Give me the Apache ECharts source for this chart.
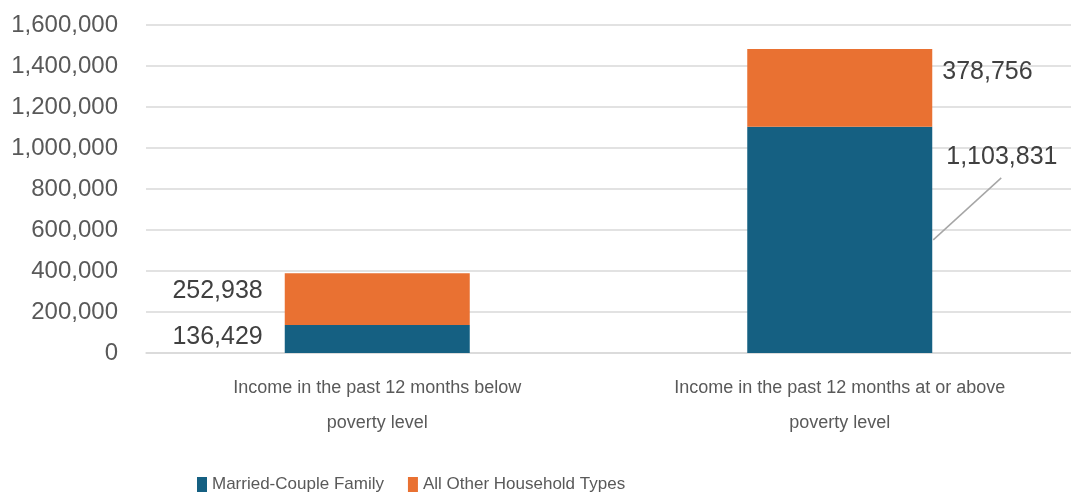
<!DOCTYPE html>
<html><head><meta charset="utf-8">
<script src="https://cdn.jsdelivr.net/npm/echarts@6/dist/echarts.min.js"></script>
<style>html,body{margin:0;padding:0;background:#fff}#c{width:1071px;height:496px}</style>
</head><body><div id="c"></div>
<script>
const categories = ["Income in the past 12 months below poverty level", "Income in the past 12 months at or above poverty level"];
const seriesNames = ["Married-Couple Family", "All Other Household Types"];
const married = [136429, 1103831];
const otherTypes = [252938, 378756];
const yMin = 0, yMax = 1600000, yStep = 200000;

const fmt = v => Number(v).toLocaleString('en-US');
const chart = echarts.init(document.getElementById('c'));
const sans = "'Liberation Sans', sans-serif";
const labelFont = {fontFamily: sans, fontSize: 25, color: '#404040'};

const marriedData = married.map((v, i) => i === 0
  ? {value: v, label: {position: 'left', distance: 22, offset: [0, -2]}}
  : {value: v, label: {position: 'right', distance: 14, offset: [0, -83]}});
const otherData = otherTypes.map((v, i) => i === 0
  ? {value: v, label: {position: 'left', distance: 22, offset: [0, -8]}}
  : {value: v, label: {position: 'right', distance: 10, offset: [0, -16]}});

const barFrac = 0.4;
chart.setOption({
  animation: false,
  grid: {left: 146, width: 931, top: 25, bottom: 143},
  legend: {
    bottom: -2, left: 192, itemWidth: 10, itemHeight: 15, itemGap: 24,
    icon: 'rect',
    textStyle: {fontFamily: sans, fontSize: 17, color: '#595959'},
    data: seriesNames
  },
  xAxis: {
    type: 'category', data: categories,
    axisLine: {lineStyle: {color: '#D9D9D9', width: 1.5}},
    axisTick: {show: false},
    axisLabel: {
      interval: 0, hideOverlap: false,
      margin: 18, fontFamily: sans, fontSize: 18, color: '#595959', lineHeight: 35,
      formatter: v => v.replace(' poverty', '\npoverty')
    }
  },
  yAxis: {
    type: 'value', min: yMin, max: yMax, interval: yStep,
    axisLine: {show: false}, axisTick: {show: false},
    splitLine: {lineStyle: {color: '#D9D9D9', width: 1.5}},
    axisLabel: {margin: 28, fontFamily: sans, fontSize: 24, color: '#595959', formatter: fmt}
  },
  series: [
    {
      name: seriesNames[0], type: 'bar', stack: 's', data: marriedData, barWidth: (barFrac * 100) + '%',
      itemStyle: {color: '#156082'},
      label: {show: true, formatter: p => fmt(p.value), ...labelFont}
    },
    {
      name: seriesNames[1], type: 'bar', stack: 's', data: otherData, barWidth: (barFrac * 100) + '%',
      itemStyle: {color: '#E97132'},
      label: {show: true, formatter: p => fmt(p.value), ...labelFont}
    }
  ]
});

// leader line for the moved "married" label on the second bar, from library scales
const mid = chart.convertToPixel({gridIndex: 0}, [1, married[1] / 2]);
const c0 = chart.convertToPixel({gridIndex: 0}, [0, 0]);
const halfBar = (mid[0] - c0[0]) * barFrac / 2;
const x1 = mid[0] + halfBar + 1;
chart.setOption({
  graphic: [{
    type: 'line', silent: true,
    shape: {x1: x1, y1: mid[1], x2: x1 + 68, y2: mid[1] - 62},
    style: {stroke: '#A6A6A6', lineWidth: 1.5}
  }]
});
</script></body></html>
